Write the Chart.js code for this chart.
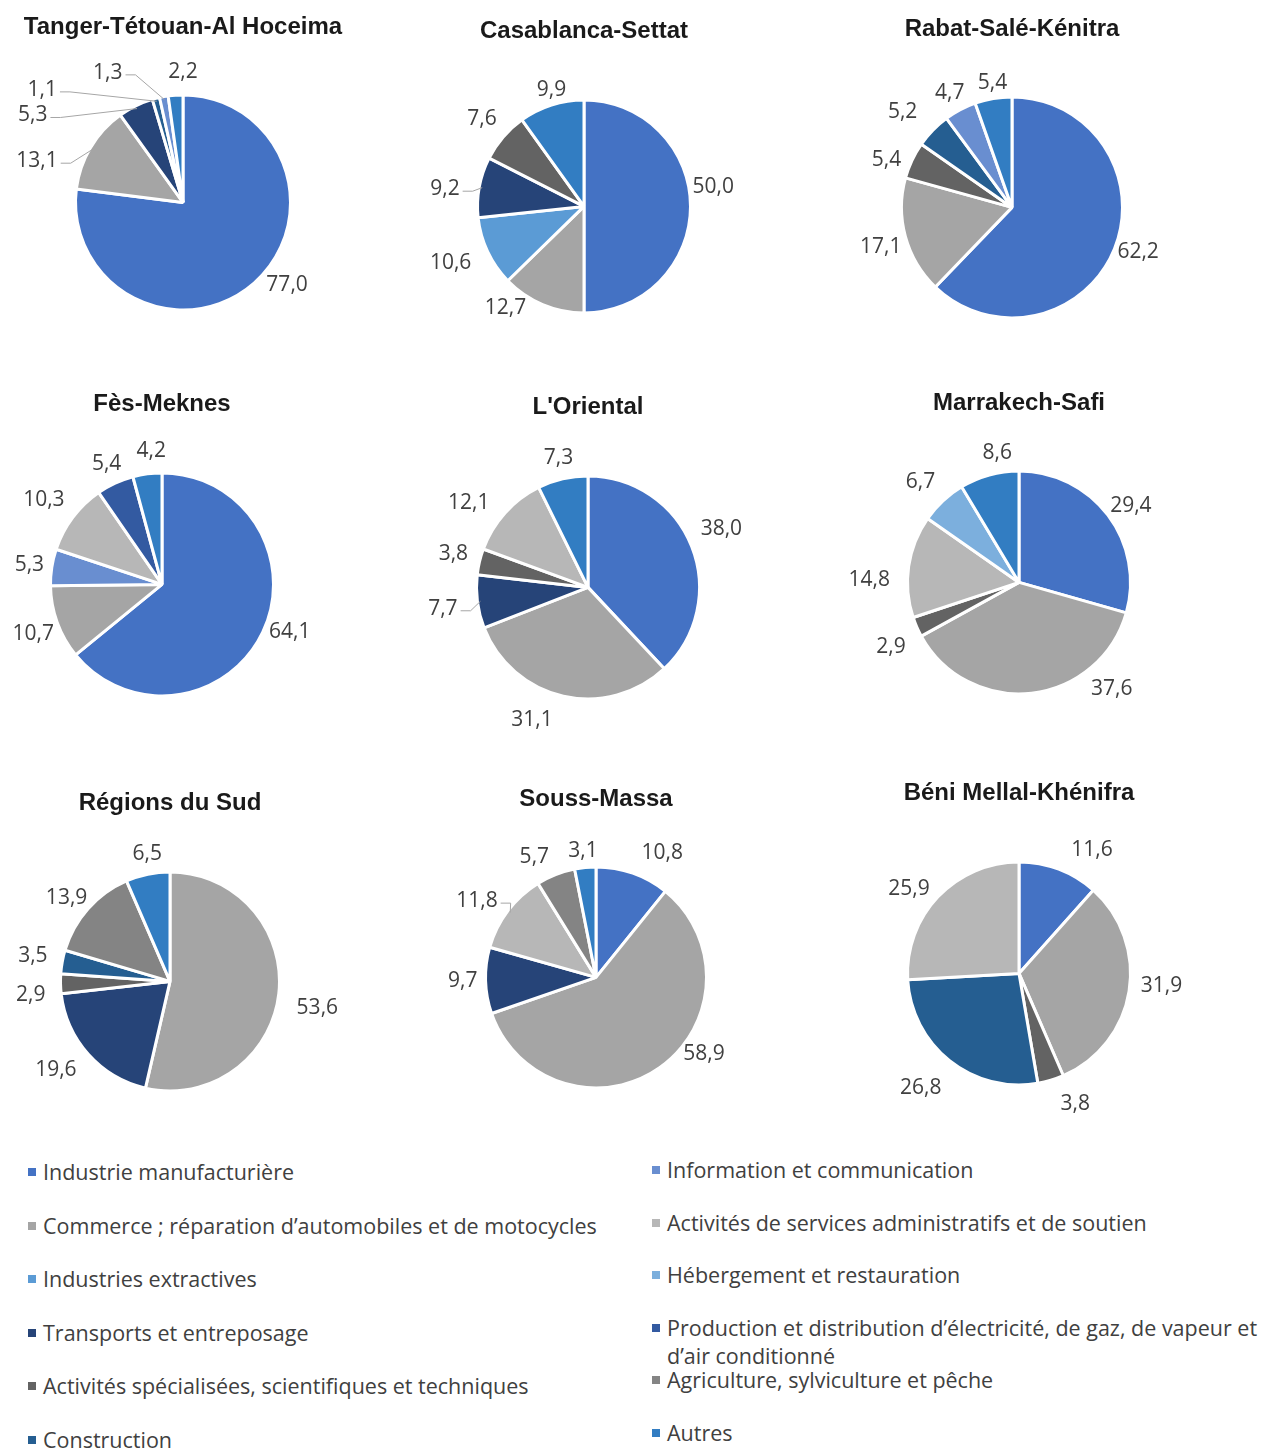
<!DOCTYPE html>
<html>
<head>
<meta charset="utf-8">
<script src="https://cdn.jsdelivr.net/npm/chart.js@4.4.1/dist/chart.umd.min.js"></script>
<style>
  body { margin: 0; background: #fff; }
  #page { position: relative; width: 1265px; height: 1450px; overflow: hidden; background: #fff; }
  #page canvas { position: absolute; }
  .leg { position: absolute; font: 21.5px "Open Sans", sans-serif; color: #404040; line-height: 28px; white-space: normal; }
  .leg i { position: absolute; width: 8px; height: 8px; top: 10px; }
</style>
</head>
<body>
<div id="page"></div>
<script>
// Sectors (legend order = slice order)
const categories = [
    'Industrie manufacturière',
    'Commerce ; réparation d’automobiles et de motocycles',
    'Industries extractives',
    'Transports et entreposage',
    'Activités spécialisées, scientifiques et techniques',
    'Construction',
    'Information et communication',
    'Activités de services administratifs et de soutien',
    'Hébergement et restauration',
    'Production et distribution d’électricité, de gaz, de vapeur et d’air conditionné',
    'Agriculture, sylviculture et pêche',
    'Autres'
];

const regionNames = ['Tanger-Tétouan-Al Hoceima', 'Casablanca-Settat', 'Rabat-Salé-Kénitra',
    'Fès-Meknes', "L'Oriental", 'Marrakech-Safi',
    'Régions du Sud', 'Souss-Massa', 'Béni Mellal-Khénifra'];

// Shares (%) per region, one entry per sector, null = not shown
const tanger     = [77.0, 13.1, null, 5.3, null, 1.1, 1.3, null, null, null, null, 2.2];
const casablanca = [50.0, 12.7, 10.6, 9.2, 7.6, null, null, null, null, null, null, 9.9];
const rabat      = [62.2, 17.1, null, null, 5.4, 5.2, 4.7, null, null, null, null, 5.4];
const fes        = [64.1, 10.7, null, null, null, null, 5.3, 10.3, null, 5.4, null, 4.2];
const oriental   = [38.0, 31.1, null, 7.7, 3.8, null, null, 12.1, null, null, null, 7.3];
const marrakech  = [29.4, 37.6, null, null, 2.9, null, null, 14.8, 6.7, null, null, 8.6];
const sud        = [null, 53.6, null, 19.6, 2.9, 3.5, null, null, null, null, 13.9, 6.5];
const souss      = [10.8, 58.9, null, 9.7, null, null, null, 11.8, null, null, 5.7, 3.1];
const beni       = [11.6, 31.9, null, null, 3.8, 26.8, null, 25.9, null, null, null, null];

const regionValues = [tanger, casablanca, rabat, fes, oriental, marrakech, sud, souss, beni];

const colors = ['#4472C4', '#A5A5A5', '#5B9BD5', '#264478', '#636363', '#255E91',
    '#698ED0', '#B7B7B7', '#7CAFDD', '#335AA1', '#848484', '#327DC2'];

// page placement of each pie: centre x, title y, centre y, radius
const boxes = [
    [183, 27, 202, 106], [584, 31, 206, 105], [1012, 29, 207, 109],
    [162, 404, 584, 110], [588, 407, 587, 110], [1019, 403, 582, 110],
    [170, 803, 981, 108], [596, 799, 977, 109], [1019, 793, 973, 110]
];

// label nudges [dx, dy, leaderLine] by sector index
const labelNudges = [
    {0: [14, -10], 1: [-29, 22, 1], 3: [-93, 24, 1], 5: [-108, 7, 1], 6: [-52, -8, 1], 11: [9, -7]},
    {0: [-6, -19], 1: [-26, -11], 2: [-11, 4], 3: [-12, 5, 1], 4: [-4, -8], 11: [7, 0]},
    {0: [-3, -3], 1: [3, 6], 4: [-5, 6], 5: [-14, -7], 6: [0, -3], 11: [3, 0]},
    {0: [1, -7], 1: [3, 6], 7: [-6, -8], 9: [1, -5], 11: [7, -7]},
    {0: [3, -11], 1: [-25, 8], 3: [-12, 5, 1], 4: [-4, -4], 7: [-15, 1], 11: [1, -5]},
    {1: [77, -20], 4: [-5, 14], 7: [-11, 16], 8: [-7, -7], 11: [14, -7]},
    {1: [10, 12], 3: [-11, 5], 4: [-7, 11], 5: [-7, -3], 11: [4, -4]},
    {0: [20, -5], 1: [28, -27], 7: [-8, 0, 1], 10: [-13, -3]},
    {0: [23, -4], 1: [4, -8], 4: [18, 8], 5: [-11, 15], 7: [-8, 3]}
];

const BORDER = 3;
const TITLE_SIZE = 24;
const CANVAS_W = 380, CANVAS_H = 350;

// draws the value next to each slice (French decimal comma)
function sliceLabels(nudges) {
    return {
        id: 'sliceLabels',
        afterDatasetsDraw(chart) {
            const ctx = chart.ctx;
            const values = chart.data.datasets[0].data;
            ctx.save();
            ctx.font = '21px "Open Sans"';
            ctx.textAlign = 'center';
            ctx.textBaseline = 'middle';
            chart.getDatasetMeta(0).data.forEach((arc, i) => {
                const v = values[i];
                if (v === null || v === undefined) return;
                const p = arc.getProps(['x', 'y', 'startAngle', 'endAngle', 'outerRadius'], true);
                const mid = (p.startAngle + p.endAngle) / 2;
                const dx = Math.cos(mid), dy = Math.sin(mid);
                const text = v.toFixed(1).replace('.', ',');
                const w = ctx.measureText(text).width;
                const d = p.outerRadius + 8;
                const n = nudges[i] || [0, 0, 0];
                const lx = p.x + dx * d + dx * w / 2 + n[0];
                const ly = p.y + dy * d + dy * 8 + n[1];

                if (n[2]) {
                    const side = lx < p.x ? 1 : -1;
                    const sx = lx + side * (w / 2 + 3);
                    ctx.strokeStyle = '#a6a6a6';
                    ctx.lineWidth = 1;
                    ctx.beginPath();
                    ctx.moveTo(sx, ly + 2);
                    ctx.lineTo(sx + side * 10, ly + 2);
                    ctx.lineTo(p.x + dx * (p.outerRadius - 3), p.y + dy * (p.outerRadius - 3));
                    ctx.stroke();
                }
                ctx.fillStyle = '#404040';
                ctx.fillText(text, lx, ly);
            });
            ctx.restore();
        }
    };
}

function renderPie(index) {
    const [cx, titleY, cy, r] = boxes[index];
    const page = document.getElementById('page');
    const canvas = document.createElement('canvas');
    canvas.width = CANVAS_W;
    canvas.height = CANVAS_H;
    const left = cx - CANVAS_W / 2;
    const top = titleY - 4 - TITLE_SIZE * 0.6;
    canvas.style.left = left + 'px';
    canvas.style.top = top + 'px';
    page.appendChild(canvas);

    // chart area keeps full width; its height sets the pie radius
    const side = r + BORDER;
    new Chart(canvas, {
        type: 'pie',
        data: {
            labels: categories,
            datasets: [{
                data: regionValues[index],
                backgroundColor: colors,
                borderColor: '#ffffff',
                borderWidth: BORDER
            }]
        },
        options: {
            responsive: false,
            animation: false,
            events: [],
            layout: {
                padding: {
                    left: 0,
                    right: 0,
                    top: 4,
                    bottom: top + CANVAS_H - (cy + side)
                }
            },
            plugins: {
                legend: { display: false },
                tooltip: { enabled: false },
                title: {
                    display: true,
                    text: regionNames[index],
                    color: '#1a1a1a',
                    font: { family: '"Liberation Sans", Arial, sans-serif', size: TITLE_SIZE, weight: 'bold', lineHeight: 1.2 },
                    padding: { top: 0, bottom: (cy - side) - (titleY + TITLE_SIZE * 0.6) }
                }
            }
        },
        plugins: [sliceLabels(labelNudges[index])]
    });
}

// shared legend, two columns of six
function renderLegend() {
    const page = document.getElementById('page');
    categories.forEach((name, i) => {
        const col = i < 6 ? 0 : 1;
        const row = i % 6;
        const item = document.createElement('div');
        item.className = 'leg';
        const textLeft = col === 0 ? 43 : 667;
        const centerY = col === 0 ? 1172 + row * 53.6 : 1170 + row * 52.6;
        item.style.left = textLeft + 'px';
        item.style.top = (centerY - 14) + 'px';
        item.style.width = (col === 0 ? 600 : 598) + 'px';
        item.innerHTML = '<i style="left:-15px;background:' + colors[i] + '"></i>' + name;
        page.appendChild(item);
    });
}

regionNames.forEach((name, i) => renderPie(i));
renderLegend();
</script>
</body>
</html>
